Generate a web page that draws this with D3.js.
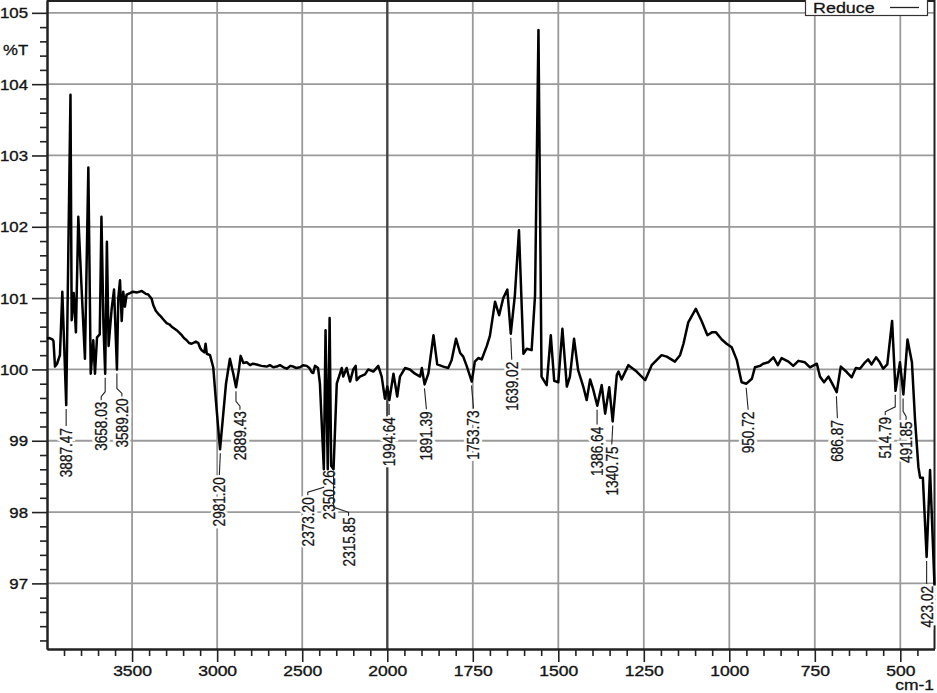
<!DOCTYPE html>
<html><head><meta charset="utf-8">
<script src="https://cdn.jsdelivr.net/npm/d3@7"></script>
<style>
body{margin:0;background:#fff}
svg{display:block}
text{font-family:"Liberation Sans",Arial,Helvetica,sans-serif}
</style>
</head><body>
<svg id="c" width="937" height="693"></svg>
<script>
// ---------------- data ----------------
const seriesName = "Reduce";
const yUnit = "%T";
const xUnit = "cm-1";
const wavenumbers = [
4000,3985,3968,3962,3953,3941,3924,3910,3887,3862,3855,3843,3830,3816,3800,3777,3757,3743,3728,3718,
3706,3690,3680,3668,3658,3648,3638,3620,3606,3589,3581,3571,3561,3552,3542,3532,3512,3495,3470,3443,
3420,3405,3385,3375,3360,3346,3330,3316,3297,3280,3267,3250,3238,3220,3208,3195,3179,3165,3150,3125,
3111,3100,3091,3075,3068,3061,3042,3023,3003,2983,2967,2948,2925,2905,2889,2872,2862,2846,2825,2807,
2790,2768,2740,2709,2690,2670,2650,2631,2610,2591,2570,2553,2535,2513,2495,2474,2458,2444,2435,2425,
2407,2396,2373,2363,2350,2339,2330,2316,2297,2268,2259,2239,2219,2200,2186,2180,2161,2131,2112,2082,
2053,2033,2014,2000,1994,1982,1971,1963,1948,1934,1919,1904,1899,1891,1880,1865,1854,1836,1822,1812,
1799,1787,1778,1768,1753,1744,1734,1724,1709,1700,1685,1673,1661,1649,1639,1627,1615,1602,1592,1578,
1568,1558,1549,1534,1522,1512,1500,1488,1475,1466,1454,1442,1427,1417,1407,1398,1386,1373,1363,1351,
1341,1329,1324,1315,1295,1271,1246,1227,1198,1183,1159,1144,1134,1120,1098,1081,1064,1051,1039,1022,
1008,993,978,964,950,934,925,910,901,886,871,858,847,827,813,798,779,764,744,735,
723,710,699,686,674,656,642,630,618,603,594,584,571,560,550,538,524,514,501,491,
479,466,457,447,442,434,423,413,400];
const transmittance = [
100.43,100.44,100.42,100.40,100.04,100.08,100.20,101.09,99.50,103.85,100.69,101.07,100.52,102.14,101.30,100.15,102.83,99.94,100.41,99.94,
100.45,100.49,102.14,100.60,99.94,101.79,100.33,100.85,101.12,100.00,101.00,101.25,100.68,101.09,100.88,101.05,101.07,101.09,101.08,101.10,
101.06,101.05,100.99,100.90,100.82,100.78,100.74,100.70,100.65,100.63,100.60,100.57,100.55,100.51,100.48,100.44,100.41,100.37,100.36,100.39,
100.37,100.30,100.27,100.24,100.36,100.22,100.20,100.03,99.44,98.88,99.30,99.80,100.15,99.94,99.75,100.00,100.19,100.09,100.10,100.06,
100.08,100.07,100.05,100.04,100.06,100.03,100.04,100.06,100.03,100.01,100.05,100.04,100.02,100.03,100.06,100.05,100.02,99.96,99.95,100.05,
100.02,99.80,98.60,100.55,98.60,100.72,98.65,98.60,99.80,100.02,99.90,100.02,99.83,100.00,100.05,99.85,99.90,99.93,100.00,99.97,
100.05,99.90,99.59,99.76,99.57,99.94,99.62,99.90,100.02,100.00,99.94,99.90,100.02,99.79,99.94,100.48,100.07,100.04,100.02,100.13,
100.43,100.23,100.18,100.05,99.83,100.11,100.16,100.14,100.33,100.47,100.95,100.76,101.00,101.12,100.50,101.04,101.95,100.22,100.29,100.27,
101.04,104.76,99.90,99.78,100.48,99.84,99.82,100.57,99.76,99.90,100.43,99.99,99.76,99.57,99.86,99.72,99.49,99.78,99.38,99.75,
99.27,99.92,99.97,99.86,100.06,99.97,99.85,100.06,100.20,100.18,100.11,100.20,100.36,100.66,100.85,100.68,100.48,100.52,100.52,100.42,
100.36,100.31,100.13,99.82,99.80,99.87,100.03,100.05,100.08,100.10,100.17,100.06,100.16,100.11,100.05,100.12,100.10,100.03,100.08,99.90,
99.82,99.90,99.80,99.68,100.04,99.96,99.89,100.02,100.01,100.10,100.14,100.07,100.17,100.10,100.01,100.07,100.68,99.70,100.10,99.65,
100.42,100.10,99.30,98.63,98.48,98.48,97.37,98.59,96.97];
const peakWavenumbers = [3887.47,3658.03,3589.20,2981.20,2889.43,2373.20,2350.26,2315.85,1994.64,1891.39,1753.73,1639.02,1386.64,1340.75,950.72,686.87,514.79,491.85,423.02];
const peakLabels = ["3887.47","3658.03","3589.20","2981.20","2889.43","2373.20","2350.26","2315.85","1994.64","1891.39","1753.73","1639.02","1386.64","1340.75","950.72","686.87","514.79","491.85","423.02"];
const xMajorTicks = [3500,3000,2500,2000,1750,1500,1250,1000,750,500];
const yMajorTicks = [97,98,99,100,101,102,103,104,105];

// ---------------- layout (not data) ----------------
const L = 47, R = 934.5, T = 0, B = 649;
const labelDx  = [0,-4,5,-1,4,-16,1,15,0,2,2,1,0,-1,2,1,-10,3,0];
const labelGap = [23,28,29,28,24,28,1,48,17,27,29,28,21,25,28,28,26,27,29];
const ink = "#141414";

const svg = d3.select("#c");
const x = d3.scaleLinear().domain([4000, 2000, 400]).range([L, 387.3, R]);
const y = d3.scaleLinear().domain([96.08, 105.18]).range([B, T]);

const xMinor = d3.range(3900, 2000, -100).filter(v => v % 500 !== 0)
  .concat(d3.range(1950, 400, -50).filter(v => v % 250 !== 0));
const yMinor = d3.range(96.2, 105.01, 0.2).filter(v => Math.abs(v - Math.round(v)) > 0.05);

// grid
const grid = svg.append("g");
grid.selectAll("line.h").data(yMajorTicks).join("line")
  .attr("x1", L).attr("x2", R).attr("y1", d => y(d)).attr("y2", d => y(d))
  .attr("stroke", "#9a9a9a").attr("stroke-width", 1.8);
grid.selectAll("line.v").data(xMajorTicks).join("line")
  .attr("x1", d => x(d)).attr("x2", d => x(d)).attr("y1", T).attr("y2", B)
  .attr("stroke", d => d === 2000 ? "#444" : "#9a9a9a")
  .attr("stroke-width", d => d === 2000 ? 2.4 : 1.8);

// frame top/right
svg.append("line").attr("x1", L).attr("x2", R).attr("y1", 1).attr("y2", 1).attr("stroke", "#222").attr("stroke-width", 2);
svg.append("line").attr("x1", R).attr("x2", R).attr("y1", 0).attr("y2", B).attr("stroke", "#222").attr("stroke-width", 2);

// axes
function styleAxis(g) {
  g.select(".domain").attr("stroke", "#222").attr("stroke-width", 2);
  g.selectAll(".tick line").attr("stroke", "#222").attr("stroke-width", 1.6);
}
const gx = svg.append("g").attr("transform", `translate(0,${B})`)
  .call(d3.axisBottom(x).tickValues(xMajorTicks).tickSize(13).tickSizeOuter(0).tickFormat(d3.format("d")));
styleAxis(gx);
gx.selectAll(".tick text").attr("y", 17).attr("dy", "0.71em")
  .attr("font-size", 14).attr("fill", ink).attr("stroke", ink).attr("stroke-width", 0.35)
  .attr("transform", "scale(1.25,1)");
const gxm = svg.append("g").attr("transform", `translate(0,${B})`)
  .call(d3.axisBottom(x).tickValues(xMinor).tickSize(7).tickSizeOuter(0).tickFormat(""));
styleAxis(gxm);

const gy = svg.append("g").attr("transform", `translate(${L},0)`)
  .call(d3.axisLeft(y).tickValues(yMajorTicks).tickSize(15).tickSizeOuter(0).tickFormat(d3.format("d")));
styleAxis(gy);
gy.selectAll(".tick text").attr("x", -19 / 1.2).attr("dy", "0.36em")
  .attr("font-size", 14).attr("fill", ink).attr("stroke", ink).attr("stroke-width", 0.35)
  .attr("transform", "scale(1.2,1)");
const gym = svg.append("g").attr("transform", `translate(${L},0)`)
  .call(d3.axisLeft(y).tickValues(yMinor).tickSize(7).tickSizeOuter(0).tickFormat(""));
styleAxis(gym);

// unit labels
svg.append("text").attr("transform", "translate(3,55) scale(1.2,1)")
  .attr("font-size", 14).attr("fill", ink).attr("stroke", ink).attr("stroke-width", 0.3).text(yUnit);
svg.append("text").attr("transform", "translate(934,690) scale(1.25,1)")
  .attr("text-anchor", "end").attr("font-size", 14).attr("fill", ink).attr("stroke", ink).attr("stroke-width", 0.3).text(xUnit);

// peak labels
const pts = wavenumbers.map((w, i) => [w, transmittance[i]]);
function nearest(w) {
  let best = pts[0];
  for (const p of pts) if (Math.abs(p[0] - w) < Math.abs(best[0] - w)) best = p;
  return best[1];
}
const lab = svg.append("g");
peakWavenumbers.forEach((w, i) => {
  const xv = x(w), yv = y(nearest(w));
  const xt = xv + labelDx[i], top = yv + labelGap[i];
  if (labelGap[i] > 8) {
    let path;
    if (Math.abs(labelDx[i]) < 3) path = `M${xv},${yv + 4}L${xt},${top - 2}`;
    else path = `M${xv},${yv + 4}L${xv},${top - 10}L${xt},${top - 5}L${xt},${top - 1}`;
    lab.append("path").attr("d", path).attr("fill", "none").attr("stroke", "#222").attr("stroke-width", 1.1);
  }
  const tr = `translate(${xt},${top}) rotate(-90) scale(0.8,1)`;
  lab.append("text").attr("transform", tr)
    .attr("text-anchor", "end").attr("dy", "0.35em").attr("font-size", 17)
    .attr("fill", "#fff").attr("stroke", "#fff").attr("stroke-width", 6)
    .text(peakLabels[i]);
  lab.append("text").attr("transform", tr)
    .attr("text-anchor", "end").attr("dy", "0.35em").attr("font-size", 17)
    .attr("fill", ink).attr("stroke", ink).attr("stroke-width", 0.3)
    .text(peakLabels[i]);
});

// spectrum
svg.append("path").datum(pts)
  .attr("fill", "none").attr("stroke", "#000").attr("stroke-width", 2.5)
  .attr("stroke-linejoin", "round")
  .attr("d", d3.line().x(d => x(d[0])).y(d => y(d[1])));

// legend
const lg = svg.append("g");
lg.append("rect").attr("x", 805.5).attr("y", -1).attr("width", 122).attr("height", 16.5)
  .attr("fill", "#fff").attr("stroke", "#333").attr("stroke-width", 1.2);
lg.append("text").attr("transform", "translate(813,13) scale(1.28,1)")
  .attr("font-size", 14).attr("fill", ink).attr("stroke", ink).attr("stroke-width", 0.25).text(seriesName);
lg.append("line").attr("x1", 890).attr("x2", 919).attr("y1", 7.5).attr("y2", 7.5)
  .attr("stroke", "#222").attr("stroke-width", 1.3);
</script>
</body></html>
